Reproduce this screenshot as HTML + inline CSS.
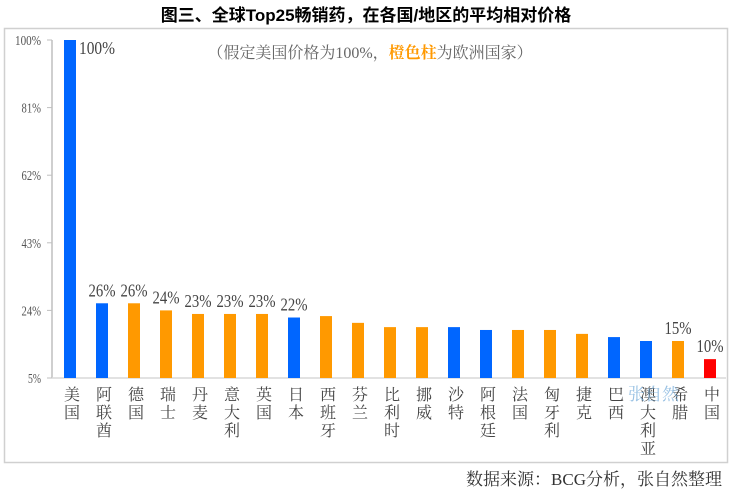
<!DOCTYPE html>
<html><head><meta charset="utf-8"><style>
body{margin:0;background:#fff;width:733px;height:493px;overflow:hidden;font-family:"Liberation Serif","Noto Serif CJK SC",serif;}
svg text{font-family:"Liberation Serif","Noto Serif CJK SC",serif;}
</style></head><body>
<svg id="chart" width="733" height="493">
<text x="366" y="21" text-anchor="middle" font-size="17" font-weight="bold" fill="#000" style="font-family:'Liberation Sans','Noto Sans CJK SC',sans-serif">图三、全球Top25畅销药，在各国/地区的平均相对价格</text>
<rect x="4.5" y="28.5" width="723" height="434" fill="none" stroke="#d0d0d0" stroke-width="1.5"/>
<text x="370" y="58" text-anchor="middle" font-size="16" fill="#666">（假定美国价格为100%，<tspan fill="#ff9900" font-weight="bold">橙色柱</tspan>为欧洲国家）</text>
<g id="axes"></g><g id="bars"></g>
<text x="722" y="485" text-anchor="end" font-size="17" fill="#333">数据来源：BCG分析，张自然整理</text>
</svg>
<script>
const categories=["美国","阿联酋","德国","瑞士","丹麦","意大利","英国","日本","西班牙","芬兰","比利时","挪威","沙特","阿根廷","法国","匈牙利","捷克","巴西","澳大利亚","希腊","中国"];
const values=[100,26,26,24,23,23,23,22,22.4,20.5,19.3,19.3,19.3,18.5,18.5,18.5,17.4,16.5,15.4,15.4,10.3];
const groups=["us","other","eu","eu","eu","eu","eu","other","eu","eu","eu","eu","other","other","eu","eu","eu","other","other","eu","cn"];
const labels=["100%","26%","26%","24%","23%","23%","23%","22%","","","","","","","","","","","","15%","10%"];
const ticks=[5,24,43,62,81,100];
const NS="http://www.w3.org/2000/svg";
const y=v=>378-(v-5)/95*338;
const x=i=>70+i*32;
const colors={us:"#0066ff",other:"#0066ff",eu:"#ff9900",cn:"#ff0000"};
const ax=document.getElementById('axes'),bg=document.getElementById('bars');
function mk(t,a,p){const e=document.createElementNS(NS,t);for(const k in a)e.setAttribute(k,a[k]);p.appendChild(e);return e;}
const yl=mk('line',{x1:52,y1:40,x2:52,y2:378,stroke:'#bfbfbf','stroke-width':1.5},ax);


const xl=mk('line',{x1:52,y1:378,x2:726,y2:378,stroke:'#d9d9d9','stroke-width':1.5},ax);


ticks.forEach(t=>{
 const tk=mk('line',{x1:47,y1:y(t),x2:52,y2:y(t),stroke:'#bfbfbf'},ax);
 
 
 const tx=mk('text',{x:41,y:y(t)+5,'text-anchor':'end','font-size':14,fill:'#555',textLength:(String(t).length+1)*6.5,lengthAdjust:'spacingAndGlyphs'},ax);
 tx.textContent=t+'%';
 
 
});
categories.forEach((c,i)=>{
 const r=mk('rect',{x:x(i)-6,y:y(values[i]),width:12,height:378-y(values[i]),fill:colors[groups[i]]},bg);
 
 
 if(labels[i]){
  const l=mk('text',{x:i==0?x(i)+9:x(i),y:y(values[i])-(i==0?-14:7),'text-anchor':i==0?'start':'middle','font-size':18,fill:'#444',textLength:labels[i].length*9,lengthAdjust:'spacingAndGlyphs'},bg);
  l.textContent=labels[i];
  
  
 }
 const t=mk('text',{x:x(i),y:386,'font-size':16,fill:'#444','letter-spacing':2,'writing-mode':'vertical-rl',style:'writing-mode:vertical-rl;glyph-orientation-vertical:0'},bg);
 t.textContent=c;
 
 
});
const wm=mk('text',{x:628,y:400,'font-size':17,fill:'#7fb2dd',opacity:0.8},bg);
wm.textContent='张自然';


</script>
</body></html>
